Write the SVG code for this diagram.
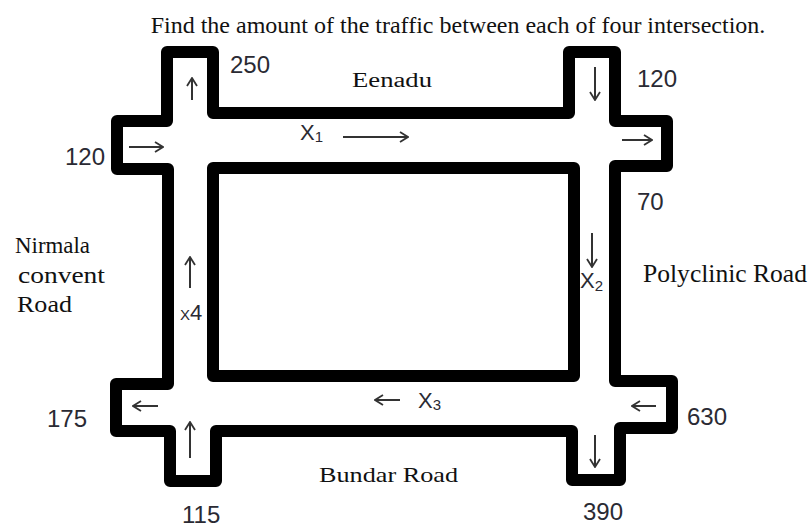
<svg xmlns="http://www.w3.org/2000/svg" width="810" height="529" viewBox="0 0 810 529">
<style>
.road{fill:none;stroke:#000;stroke-width:12;stroke-linejoin:round;stroke-linecap:round}
.arr{fill:none;stroke:#333;stroke-width:2;marker-end:url(#ah)}
.serif{font-family:"Liberation Serif","Times New Roman",serif;fill:#111}
.num{font-family:"Liberation Sans",Arial,sans-serif;font-size:24px;fill:#2a2a33}
.var{font-family:"Liberation Sans",Arial,sans-serif;font-size:22px;fill:#2a2a33}
</style>
<defs>
<marker id="ah" viewBox="0 0 10 12" refX="9" refY="6" markerWidth="10" markerHeight="12" markerUnits="userSpaceOnUse" orient="auto">
<path d="M1,1 L9,6 L1,11" fill="none" stroke="#333" stroke-width="1.8"/>
</marker>
</defs>
<rect width="810" height="529" fill="#fff"/>
<text class="serif" x="458" y="33" font-size="24" text-anchor="middle">Find the amount of the traffic between each of four intersection.</text>
<g id="roads">
<path class="road" d="M167,52 H213 V113 H569 V52 H615 V121 H667 V166 H615 V381 H672 V428 H620 V480 H572 V431 H216 V481 H170 V431 H116 V384 H168 V169 H117 V121 H167 Z"/>
<rect id="block" class="road" x="213" y="168" width="361" height="208"/>
</g>
<g id="arrows">
<line class="arr" x1="192" y1="100" x2="192" y2="78"/>
<line class="arr" x1="129" y1="147" x2="163" y2="147"/>
<line class="arr" x1="343" y1="137" x2="408" y2="137"/>
<line class="arr" x1="595" y1="67" x2="595" y2="100"/>
<line class="arr" x1="622" y1="140" x2="652" y2="140"/>
<line class="arr" x1="592" y1="233" x2="592" y2="267"/>
<line class="arr" x1="190" y1="288" x2="190" y2="257"/>
<line class="arr" x1="158" y1="406" x2="133" y2="406"/>
<line class="arr" x1="190" y1="458" x2="190" y2="422"/>
<line class="arr" x1="400" y1="400" x2="375" y2="400"/>
<line class="arr" x1="656" y1="406" x2="632" y2="406"/>
<line class="arr" x1="595" y1="435" x2="595" y2="467"/>
</g>
<g id="variables">
<text class="var" x="300" y="140">X<tspan font-size="15" dy="2">1</tspan></text>
<text class="var" x="580" y="288">X<tspan font-size="15" dy="3">2</tspan></text>
<text class="var" x="418" y="408">X<tspan font-size="15" dy="2">3</tspan></text>
<text class="var" x="180" y="320"><tspan font-size="15">X</tspan>4</text>
</g>
<g id="volumes">
<text class="num" x="230" y="73">250</text>
<text class="num" x="637" y="87">120</text>
<text class="num" x="65" y="165">120</text>
<text class="num" x="637" y="210">70</text>
<text class="num" x="47" y="427">175</text>
<text class="num" x="687" y="425">630</text>
<text class="num" x="182" y="523">115</text>
<text class="num" x="583" y="520">390</text>
</g>
<g id="road-names">
<text class="serif" x="352" y="87" font-size="20" textLength="80" lengthAdjust="spacingAndGlyphs">Eenadu</text>
<text class="serif" x="319" y="482" font-size="21" textLength="139" lengthAdjust="spacingAndGlyphs">Bundar Road</text>
<text class="serif" x="643" y="282" font-size="25" textLength="164" lengthAdjust="spacingAndGlyphs">Polyclinic Road</text>
<text class="serif" x="15" y="253" font-size="23" textLength="75" lengthAdjust="spacingAndGlyphs">Nirmala</text>
<text class="serif" x="18" y="283" font-size="23" textLength="87" lengthAdjust="spacingAndGlyphs">convent</text>
<text class="serif" x="17" y="312" font-size="23" textLength="55" lengthAdjust="spacingAndGlyphs">Road</text>
</g>
</svg>
